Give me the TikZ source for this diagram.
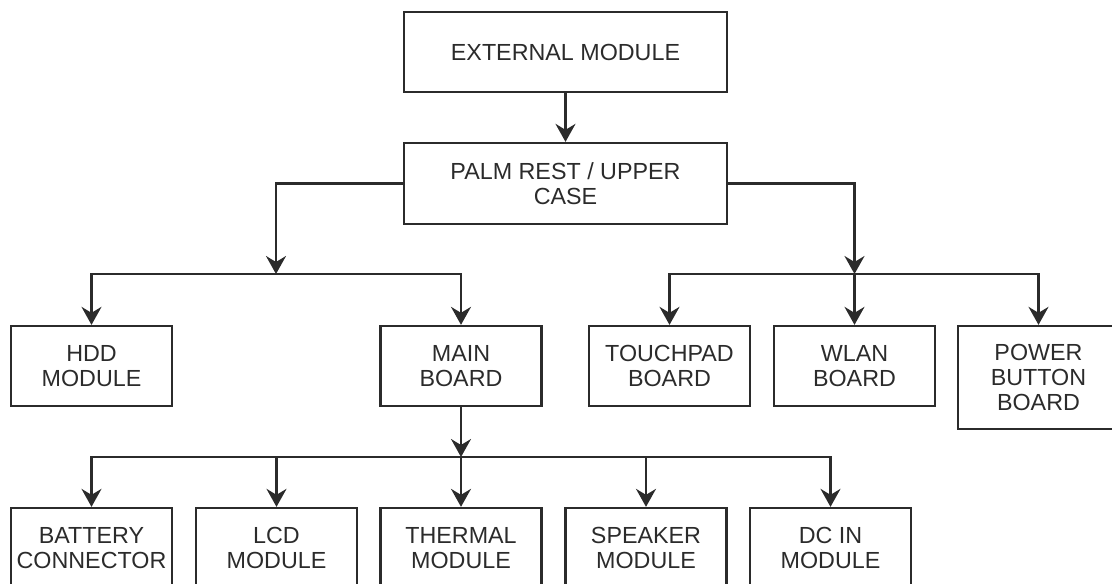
\documentclass[tikz,border=0pt]{standalone}
\usepackage{fontspec}
\setmainfont{Liberation Sans}
\usetikzlibrary{arrows.meta}
\definecolor{ink}{HTML}{2B2B2B}
\begin{document}
\begin{tikzpicture}[x=1pt,y=-1pt,
  box/.style={draw=ink,line width=2.3pt,rectangle,inner sep=0pt,
    minimum width=161pt,minimum height=80pt,align=center,text=ink,
    font=\fontsize{23.3}{25}\selectfont},
  arr/.style={draw=ink,line width=2.3pt,-{Stealth[length=18pt,width=20pt,inset=6pt]}}]
\clip (0,0) rectangle (1112,584);
\node[box,minimum width=323pt] (ext) at (565.5,52) {EXTERNAL MODULE};
\node[box,minimum width=323pt,minimum height=81pt] (palm) at (565.5,183.5) {PALM REST / UPPER\\CASE};
\node[box] (hdd) at (91.5,366) {HDD\\MODULE};
\node[box] (main) at (461,366) {MAIN\\BOARD};
\node[box] (touch) at (669.5,366) {TOUCHPAD\\BOARD};
\node[box] (wlan) at (854.5,366) {WLAN\\BOARD};
\node[box,minimum height=103pt] (power) at (1038.5,377.5) {POWER\\BUTTON\\BOARD};
\node[box] (batt) at (91.5,548) {BATTERY\\CONNECTOR};
\node[box] (lcd) at (276.5,548) {LCD\\MODULE};
\node[box] (therm) at (461,548) {THERMAL\\MODULE};
\node[box] (spk) at (646,548) {SPEAKER\\MODULE};
\node[box] (dcin) at (830.5,548) {DC IN\\MODULE};
\coordinate (lj) at (276,274);
\coordinate (rj) at (854.5,274);
\coordinate (bj) at (461,457);
\draw[arr] (ext.south) -- (palm.north);
\draw[arr] (palm.west) -| (lj);
\draw[arr] (palm.east) -| (rj);
\draw[arr] (lj) -| (hdd.north);
\draw[arr] (lj) -| (main.north);
\draw[arr] (rj) -| (touch.north);
\draw[arr] (rj) -- (wlan.north);
\draw[arr] (rj) -| (power.north);
\draw[arr] (main.south) -- (bj);
\draw[arr] (bj) -| (batt.north);
\draw[arr] (bj) -| (lcd.north);
\draw[arr] (bj) -- (therm.north);
\draw[arr] (bj) -| (spk.north);
\draw[arr] (bj) -| (dcin.north);
\end{tikzpicture}
\end{document}
